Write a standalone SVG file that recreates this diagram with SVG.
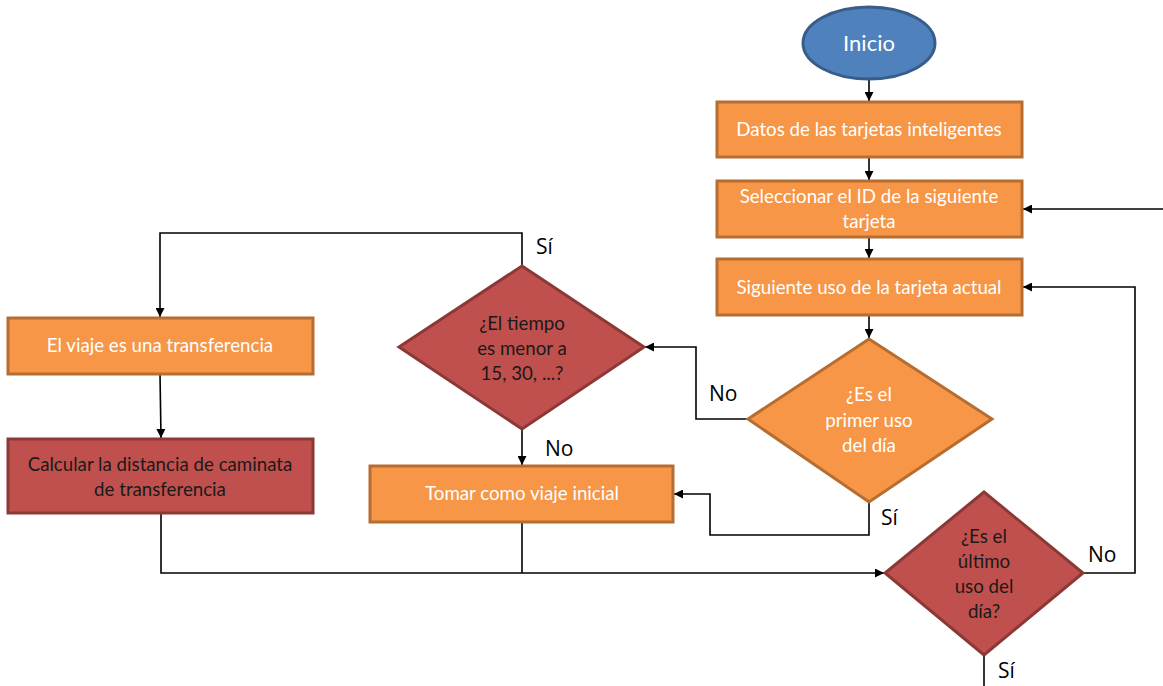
<svg xmlns="http://www.w3.org/2000/svg" width="1163" height="686" viewBox="0 0 1163 686">
<style>
.o{fill:#F79646;stroke:#B66D31;stroke-width:3}
.r{fill:#C0504D;stroke:#8C3836;stroke-width:3}
.b{fill:#4F81BD;stroke:#385D8A;stroke-width:3}
.tw{font-family:Lato,"Liberation Sans",sans-serif;font-size:18.7px;fill:#fff;text-anchor:middle}
.td{font-family:Lato,"Liberation Sans",sans-serif;font-size:18.7px;fill:#1a1a1a;text-anchor:middle}
.lb{font-family:"Open Sans","Liberation Sans",sans-serif;font-size:21px;fill:#000}
.c{fill:none;stroke:#000;stroke-width:1.6}
</style>
<defs>
<marker id="ah" viewBox="0 0 10 10" refX="10" refY="5" markerWidth="9" markerHeight="9" markerUnits="userSpaceOnUse" orient="auto">
<path d="M0,0 L10,5 L0,10 z" fill="#000"/>
</marker>
</defs>
<rect width="1163" height="686" fill="#fff"/>
<g id="connectors">
<path class="c" d="M869,79 V101" marker-end="url(#ah)"/>
<path class="c" d="M869,157 V180" marker-end="url(#ah)"/>
<path class="c" d="M869,237 V258" marker-end="url(#ah)"/>
<path class="c" d="M869,315 V338" marker-end="url(#ah)"/>
<path class="c" d="M1163,209 H1023" marker-end="url(#ah)"/>
<path class="c" d="M748,419 H696 V347 H645" marker-end="url(#ah)"/>
<path class="c" d="M869,502 V535 H710 V494 H674" marker-end="url(#ah)"/>
<path class="c" d="M522,266 V233 H160 V317" marker-end="url(#ah)"/>
<path class="c" d="M522,429 V465" marker-end="url(#ah)"/>
<path class="c" d="M160,374 L161,438" marker-end="url(#ah)"/>
<path class="c" d="M161,513 V573 H884" marker-end="url(#ah)"/>
<path class="c" d="M522,522 V573"/>
<path class="c" d="M1083,573 H1135 V287 H1023" marker-end="url(#ah)"/>
<path class="c" d="M984,655 V686"/>
</g>
<g id="inicio"><ellipse class="b" cx="869" cy="43" rx="66" ry="36"/><text class="tw" x="869" y="51" style="font-size:22px">Inicio</text></g>
<g id="datos"><rect class="o" x="717" y="102" width="305" height="55"/><text class="tw" x="869" y="136">Datos de las tarjetas inteligentes</text></g>
<g id="seleccionar"><rect class="o" x="717" y="181" width="305" height="56"/><text class="tw" x="869" y="203">Seleccionar el ID de la siguiente</text><text class="tw" x="869" y="228">tarjeta</text></g>
<g id="siguiente"><rect class="o" x="717" y="259" width="305" height="56"/><text class="tw" x="869" y="294">Siguiente uso de la tarjeta actual</text></g>
<g id="primer"><polygon class="o" points="869,339 992,419 869,502 748,419"/><text class="tw" x="869" y="401">¿Es el</text><text class="tw" x="869" y="427">primer uso</text><text class="tw" x="869" y="452">del día</text></g>
<g id="tiempo"><polygon class="r" points="522,266 644,347 522,429 399,347"/><text class="td" x="522" y="330">¿El tiempo</text><text class="td" x="522" y="355">es menor a</text><text class="td" x="522" y="380">15, 30, ...?</text></g>
<g id="tomar"><rect class="o" x="370" y="466" width="303" height="56"/><text class="tw" x="522" y="500">Tomar como viaje inicial</text></g>
<g id="transferencia"><rect class="o" x="8" y="318" width="305" height="56"/><text class="tw" x="160" y="352">El viaje es una transferencia</text></g>
<g id="calcular"><rect class="r" x="8" y="439" width="305" height="74"/><text class="td" x="160" y="471">Calcular la distancia de caminata</text><text class="td" x="160" y="496">de transferencia</text></g>
<g id="ultimo"><polygon class="r" points="984,492 1083,573 984,655 885,573"/><text class="td" x="984" y="543">¿Es el</text><text class="td" x="984" y="568">último</text><text class="td" x="984" y="593">uso del</text><text class="td" x="984" y="618">día?</text></g>
<g id="labels">
<text class="lb" x="536" y="254">Sí</text>
<text class="lb" x="709" y="401">No</text>
<text class="lb" x="545" y="456">No</text>
<text class="lb" x="881" y="525">Sí</text>
<text class="lb" x="1088" y="562">No</text>
<text class="lb" x="998" y="678">Sí</text>
</g>
</svg>
